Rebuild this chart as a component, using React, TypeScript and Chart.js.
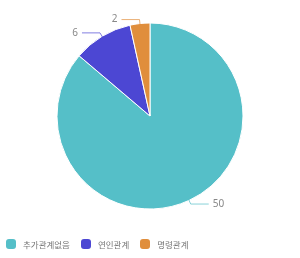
import React, { useEffect, useRef } from "react";
import { Chart, registerables } from "chart.js";

Chart.register(...registerables);

const categories = ["추가관계없음", "연인관계", "명령관계"];
const values = [50, 6, 2];
const colors = ["#55bfc8", "#4c47d3", "#e08e3c"];

const leaderPlugin = {
  id: "leaderLabels",
  afterDatasetsDraw(chart: any) {
    const ctx = chart.ctx;
    const meta = chart.getDatasetMeta(0);
    meta.data.forEach((arc: any, i: number) => {
      const { x, y, startAngle, endAngle, outerRadius } = arc.getProps(
        ["x", "y", "startAngle", "endAngle", "outerRadius"],
        true
      );
      const mid = (startAngle + endAngle) / 2;
      const cos = Math.cos(mid);
      const sin = Math.sin(mid);
      const p0x = x + cos * (outerRadius - 1);
      const p0y = y + sin * (outerRadius - 1);
      const p1x = x + cos * (outerRadius + 4);
      const p1y = y + sin * (outerRadius + 4);
      const dir = cos >= 0 ? 1 : -1;
      const p2x = p1x + dir * 18;
      ctx.save();
      ctx.strokeStyle = colors[i];
      ctx.globalAlpha = 0.7;
      ctx.lineWidth = 1;
      ctx.beginPath();
      ctx.moveTo(p0x, p0y);
      ctx.lineTo(p1x, p1y);
      ctx.lineTo(p2x, p1y);
      ctx.stroke();
      ctx.globalAlpha = 1;
      ctx.fillStyle = "#888";
      ctx.font = "10px 'Noto Sans', sans-serif";
      ctx.textBaseline = "middle";
      ctx.textAlign = dir > 0 ? "left" : "right";
      ctx.fillText(String(values[i]), p2x + dir * 4, p1y);
      ctx.restore();
    });
  },
};

export default function App() {
  const ref = useRef<HTMLCanvasElement>(null);
  useEffect(() => {
    document.body.style.margin = "0";
    const chart = new Chart(ref.current!, {
      type: "pie",
      data: {
        labels: categories,
        datasets: [
          {
            data: values,
            backgroundColor: colors,
            borderColor: "#ffffff",
            borderWidth: 1,
            radius: 93,
          },
        ],
      },
      options: {
        animation: false,
        responsive: false,
        maintainAspectRatio: false,
        layout: { padding: { top: 5, left: 0, right: 0, bottom: 31 } },
        plugins: {
          tooltip: { enabled: false },
          legend: { display: false },
        },
      },
      plugins: [leaderPlugin],
    });
    return () => chart.destroy();
  }, []);
  return (
    <div style={{ position: "absolute", left: 0, top: 0, width: 300, height: 258 }}>
      <canvas ref={ref} width={300} height={258} />
      <div
        style={{
          position: "absolute",
          left: 6,
          top: 239,
          display: "flex",
          alignItems: "center",
          fontFamily: "'Noto Sans CJK KR', sans-serif",
          fontSize: 8.5,
          lineHeight: "10px",
          color: "#777",
        }}
      >
        {categories.map((c, i) => (
          <div key={c} style={{ display: "flex", alignItems: "center", marginRight: 11 }}>
            <span
              style={{
                display: "inline-block",
                width: 10,
                height: 10,
                borderRadius: 3,
                background: colors[i],
                marginRight: 7,
              }}
            />
            <span>{c}</span>
          </div>
        ))}
      </div>
    </div>
  );
}
